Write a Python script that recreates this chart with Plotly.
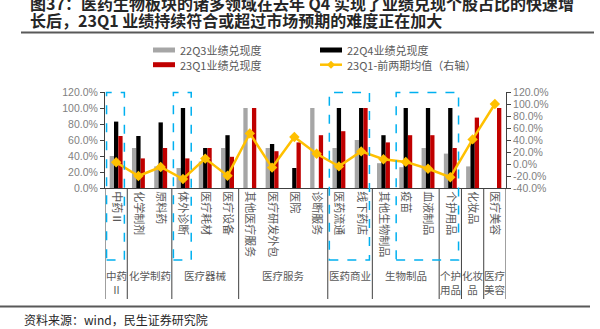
import plotly.graph_objects as go

# ---------------- data ----------------
categories = ["中药Ⅱ", "化学制剂", "原料药", "体外诊断", "医疗耗材", "医疗设备",
              "其他医疗服务", "医疗研发外包", "医院", "诊断服务", "医药流通", "线下药店",
              "其他生物制品", "疫苗", "血液制品", "个护用品", "化妆品", "医疗美容"]
q3_22 = [40, 50, 27, 25, 33, 50, 100, 50, None, 100, 50, 60, 31, 26, 50, 43, 27, None]
q4_22 = [83, 65, 82, 100, 50, 66, None, 55, 25, None, 100, 100, 66, 100, 100, 100, 60, None]
q1_23 = [65, 37, 50, 37, 50, 39, 100, 46, 57, 66, 71, 100, 57, 66, 66, 50, 88, 100]
diff_avg = [3, -20, -5, -25, 9, -19.5, 51, -6, 45, 17, -4, 21, 8, 3.5, -8, -22, 41, 100]

series_names = ["22Q3业绩兑现度", "22Q4业绩兑现度", "23Q1业绩兑现度", "23Q1-前两期均值（右轴）"]
groups = ["中药<br>Ⅱ", "化学制药", "医疗器械", "医疗服务", "医药商业", "生物制品",
          "个护<br>用品", "化妆<br>品", "医疗<br>美容"]
group_sizes = [1, 2, 3, 4, 2, 3, 1, 1, 1]
highlight = [["中药Ⅱ"], ["体外诊断"], ["医药流通", "线下药店"], ["疫苗", "血液制品", "个护用品"]]
left_ticks = [0, 20, 40, 60, 80, 100, 120]
right_ticks = [-40, -20, 0, 20, 40, 60, 80, 100, 120]

title1 = "图37：医药生物板块的诸多领域在去年 Q4 实现了业绩兑现个股占比的快速增"
title2 = "长后，23Q1 业绩持续符合或超过市场预期的难度正在加大"
source = "资料来源：wind，民生证券研究院"

# ---------------- layout helpers ----------------
W, H = 600, 329
L, R, T, B = 105, 94, 92, 141
PW, PH = W - L - R, H - T - B
FONT = "Noto Sans CJK SC"
NUMFONT = "Liberation Sans"
GRAY_TXT = "#595959"
AX = "#404040"
C_GRAY, C_BLACK, C_RED, C_GOLD = "#A6A6A6", "#000000", "#C00000", "#FFC000"


def xp(px):
    return (px - L) / PW


def yp(py):
    return (H - B - py) / PH


idx = list(range(len(categories)))
fig = go.Figure()
for vals, name, col in [(q3_22, series_names[0], C_GRAY),
                        (q4_22, series_names[1], C_BLACK),
                        (q1_23, series_names[2], C_RED)]:
    fig.add_trace(go.Bar(x=idx, y=vals, name=name, marker_color=col,
                         marker_line_width=0, showlegend=False))
fig.add_trace(go.Scatter(x=idx, y=diff_avg, name=series_names[3], yaxis="y2",
                         mode="lines+markers", line=dict(color=C_GOLD, width=2.5),
                         marker=dict(symbol="diamond", size=8, color=C_GOLD),
                         showlegend=False))

shapes = []
annotations = []

# group separators and group labels
pos = -0.5
bounds = [pos]
for gname, gs in zip(groups, group_sizes):
    center = pos + gs / 2
    annotations.append(dict(x=center, xref="x", y=yp(266), yref="paper", text=gname,
                            showarrow=False, xanchor="center", yanchor="top",
                            font=dict(family=FONT, size=10.5, color=GRAY_TXT)))
    pos += gs
    bounds.append(pos)
for b in bounds:
    shapes.append(dict(type="line", xref="x", yref="paper", x0=b, x1=b,
                       y0=0, y1=yp(299), line=dict(color=AX, width=1)))

# highlight dashed boxes
for hl in highlight:
    i0 = categories.index(hl[0])
    i1 = categories.index(hl[-1])
    shapes.append(dict(type="rect", xref="x", yref="paper", x0=i0 - 0.43, x1=i1 + 0.37,
                       y0=yp(260), y1=yp(92.5), line=dict(color="#00B0F0", width=1.5, dash="dash")))

# manual legend
leg = [(153, 50, series_names[0], C_GRAY, "bar"),
       (320, 50, series_names[1], C_BLACK, "bar"),
       (153, 64.7, series_names[2], C_RED, "bar"),
       (320, 64.7, series_names[3], C_GOLD, "line")]
for x0, yc, name, col, kind in leg:
    if kind == "bar":
        shapes.append(dict(type="rect", xref="paper", yref="paper", x0=xp(x0), x1=xp(x0 + 22),
                           y0=yp(yc + 2.5), y1=yp(yc - 2.5), fillcolor=col, line=dict(width=0)))
    else:
        shapes.append(dict(type="line", xref="paper", yref="paper", x0=xp(x0), x1=xp(x0 + 22),
                           y0=yp(yc), y1=yp(yc), line=dict(color=col, width=2.5)))
        shapes.append(dict(type="path", xref="paper", yref="paper",
                           path="M {} {} L {} {} L {} {} L {} {} Z".format(
                               xp(x0 + 11 - 4), yp(yc), xp(x0 + 11), yp(yc - 4),
                               xp(x0 + 11 + 4), yp(yc), xp(x0 + 11), yp(yc + 4)),
                           fillcolor=col, line=dict(width=0)))
    annotations.append(dict(x=xp(x0 + 25), xref="paper", y=yp(yc), yref="paper", text=name,
                            showarrow=False, xanchor="left", yanchor="middle",
                            font=dict(family=FONT, size=11, color=GRAY_TXT)))

# title
for txt, yc in [(title1, 2.5), (title2, 20)]:
    annotations.append(dict(x=xp(28), xref="paper", y=yp(yc), yref="paper", text="<b>" + txt + "</b>",
                            showarrow=False, xanchor="left", yanchor="middle",
                            font=dict(family=FONT, size=16, color="#262626")))
shapes.append(dict(type="line", xref="paper", yref="paper", x0=xp(21), x1=xp(594),
                   y0=yp(32.5), y1=yp(32.5), line=dict(color="#595959", width=2)))
# footer
shapes.append(dict(type="line", xref="paper", yref="paper", x0=xp(0), x1=xp(590),
                   y0=yp(306.5), y1=yp(306.5), line=dict(color="#595959", width=2)))
annotations.append(dict(x=xp(22), xref="paper", y=yp(319), yref="paper", text=source,
                        showarrow=False, xanchor="left", yanchor="middle",
                        font=dict(family=FONT, size=12, color="#262626")))

fig.update_layout(
    width=W, height=H, margin=dict(l=L, r=R, t=T, b=B),
    paper_bgcolor="white", plot_bgcolor="white",
    barmode="group", bargap=0.42, bargroupgap=0,
    font=dict(family=FONT, size=11, color=GRAY_TXT),
    shapes=shapes, annotations=annotations,
    xaxis=dict(tickmode="array", tickvals=idx, ticktext=categories, tickangle=90,
               range=[-0.5, len(categories) - 0.5], showline=True, linecolor=AX, linewidth=1,
               ticks="", showgrid=False, zeroline=False,
               tickfont=dict(family=FONT, size=11, color=GRAY_TXT)),
    yaxis=dict(range=[0, 120], tickvals=left_ticks, ticktext=["%.1f%%" % v for v in left_ticks],
               showline=True, linecolor=AX, linewidth=1, ticks="outside", ticklen=4, tickcolor=AX,
               showgrid=False, zeroline=False, tickfont=dict(family=NUMFONT, size=10.5, color="#7F7F7F")),
    yaxis2=dict(range=[-40, 120], tickvals=right_ticks, ticktext=["%.1f%%" % v for v in right_ticks],
                overlaying="y", side="right", showline=True, linecolor=AX, linewidth=1,
                ticks="outside", ticklen=4, tickcolor=AX, showgrid=False, zeroline=False,
                tickfont=dict(family=NUMFONT, size=10.5, color="#7F7F7F")),
)

fig.write_html("out.html")
